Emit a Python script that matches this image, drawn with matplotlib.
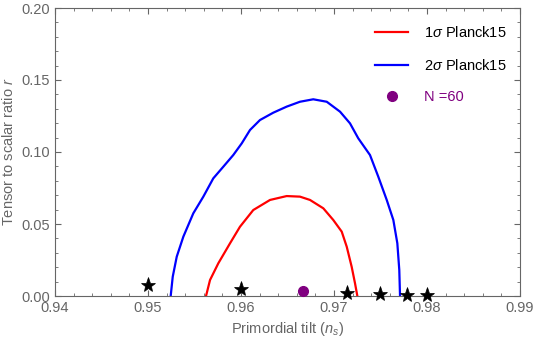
import matplotlib
matplotlib.use("Agg")
import matplotlib.pyplot as plt
from matplotlib.lines import Line2D
from matplotlib.ticker import MultipleLocator

plt.rcParams['font.family'] = ['Liberation Sans', 'DejaVu Sans']
plt.rcParams['mathtext.fontset'] = 'custom'
plt.rcParams['mathtext.it'] = 'Liberation Sans:italic'
plt.rcParams['mathtext.rm'] = 'Liberation Sans'

# 1 sigma Planck15 contour (n_s, r)
ns_1sig = [0.95624, 0.95667, 0.95756, 0.95882, 0.95989, 0.96132, 0.96312, 0.96491,
           0.96634, 0.96742, 0.96885, 0.96992, 0.97083, 0.97137, 0.97190, 0.97226,
           0.97251]
r_1sig = [0.0, 0.0111, 0.0227, 0.0366, 0.0481, 0.0597, 0.0667, 0.0694,
          0.0690, 0.0667, 0.0609, 0.0528, 0.0447, 0.0342, 0.0203, 0.0088,
          0.0]

# 2 sigma Planck15 contour
ns_2sig = [0.95244, 0.95266, 0.95309, 0.95380, 0.95487, 0.95595, 0.95702, 0.95810,
           0.95917, 0.96008, 0.96097, 0.96204, 0.96347, 0.96491, 0.96634, 0.96777,
           0.96922, 0.97065, 0.97172, 0.97261, 0.97387, 0.97476, 0.97567, 0.97638,
           0.97681, 0.97702, 0.97710]
r_2sig = [0.0, 0.0134, 0.0273, 0.0412, 0.0574, 0.0690, 0.0817, 0.0898,
          0.0979, 0.1060, 0.1153, 0.1222, 0.1273, 0.1315, 0.1349, 0.1366,
          0.1349, 0.1280, 0.1199, 0.1095, 0.0979, 0.0829, 0.0667, 0.0528,
          0.0366, 0.0181, 0.0]

# model predictions (stars)
ns_stars = [0.95, 0.96, 0.9714, 0.975, 0.9778, 0.98]
r_stars = [0.0076, 0.0049, 0.0020, 0.0014, 0.0008, 0.0006]

# N = 60 point
ns_n60 = [0.9667]
r_n60 = [0.0035]

purple = '#800080'
gray = '#666666'

fig = plt.figure(figsize=(5.35, 3.44), dpi=100)
ax = fig.add_axes([55/535, 1-296/344, (520-55)/535, (296-8)/344])

ax.plot(ns_2sig, r_2sig, color='blue', lw=1.6, solid_joinstyle='round')
ax.plot(ns_1sig, r_1sig, color='red', lw=1.6, solid_joinstyle='round')
ax.plot(ns_stars, r_stars, '*', color='black', ms=11, mew=0.5, mec='black', clip_on=False, zorder=5)
ax.plot(ns_n60, r_n60, 'o', color=purple, ms=7, clip_on=False, zorder=5)

ax.set_xlim(0.94, 0.99)
ax.set_ylim(0.0, 0.20)
ax.xaxis.set_major_locator(MultipleLocator(0.01))
ax.xaxis.set_minor_locator(MultipleLocator(0.002))
ax.yaxis.set_major_locator(MultipleLocator(0.05))
ax.yaxis.set_minor_locator(MultipleLocator(0.01))
ax.xaxis.set_major_formatter(lambda v, p: f'{v:.2f}')
ax.yaxis.set_major_formatter(lambda v, p: f'{v:.2f}')

ax.tick_params(which='both', direction='in', top=True, right=True, color=gray,
               labelcolor=gray, labelsize=10.5)
ax.tick_params(which='major', length=4)
ax.tick_params(which='minor', length=2)
for s in ax.spines.values():
    s.set_color(gray)

ax.set_xlabel(r'Primordial tilt ($n_s$)', color=gray, fontsize=10.5)
ax.set_ylabel(r'Tensor to scalar ratio $r$', color=gray, fontsize=10.5)

handles = [Line2D([], [], color='red', lw=1.6),
           Line2D([], [], color='blue', lw=1.6),
           Line2D([], [], ls='', marker='o', color=purple, ms=7)]
labels = [r'1$\sigma$ Planck15', r'2$\sigma$ Planck15', 'N =60']
leg = ax.legend(handles, labels, loc='upper right', bbox_to_anchor=(1.0, 0.985),
                frameon=False, fontsize=10.5, labelspacing=1.2, handlelength=2.3,
                handletextpad=1.1)
leg.get_texts()[2].set_color(purple)

fig.savefig('out.png', dpi=100)
